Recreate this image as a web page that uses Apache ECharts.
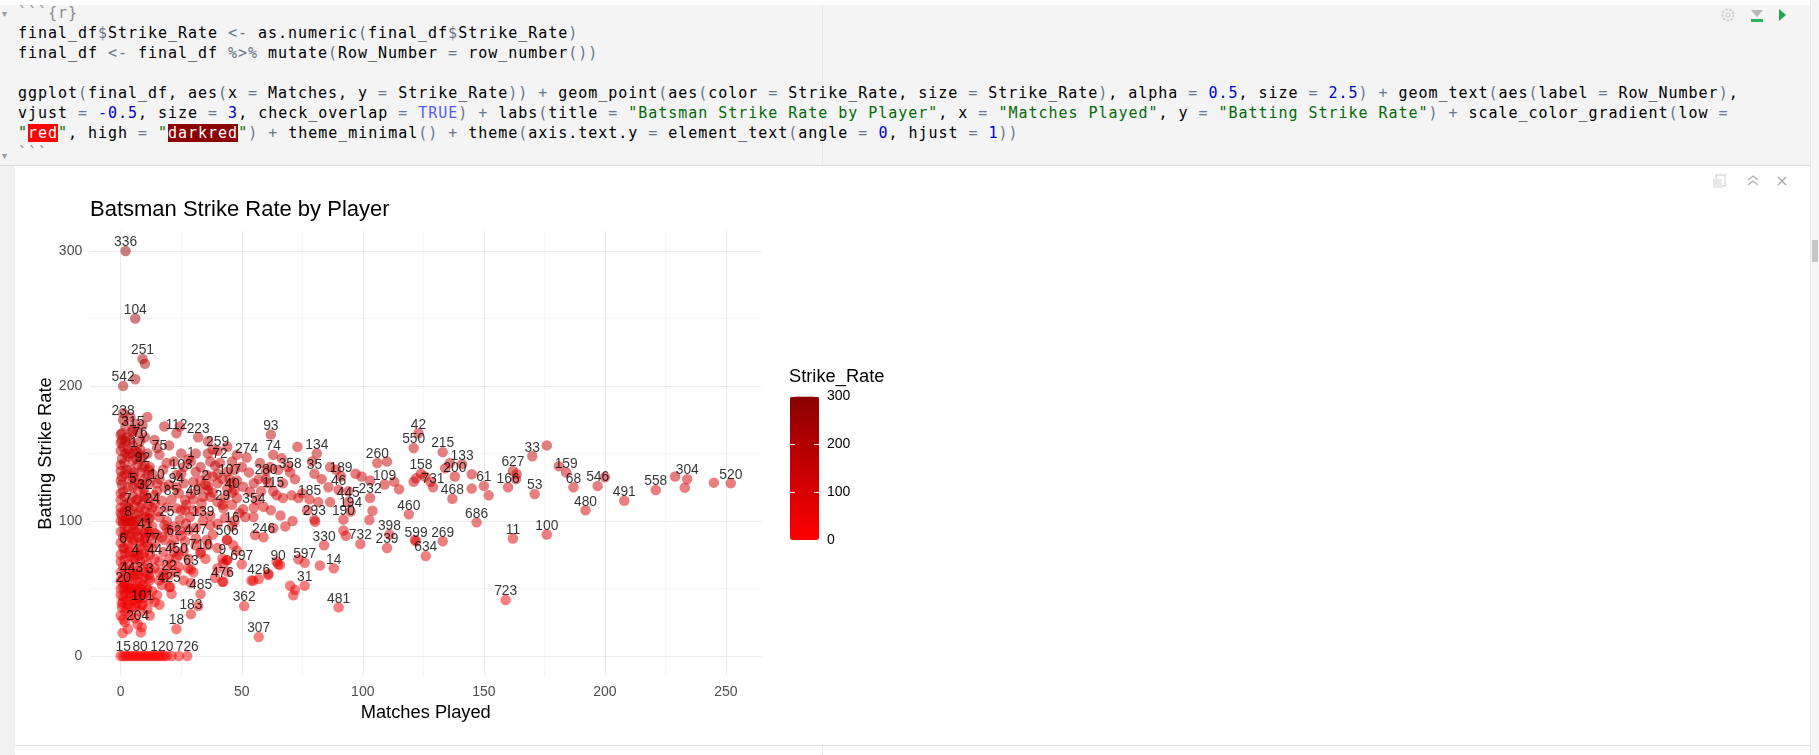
<!DOCTYPE html>
<html>
<head>
<meta charset="utf-8">
<script src="https://cdn.jsdelivr.net/npm/echarts@6/dist/echarts.min.js"></script>
<style>
html, body { margin: 0; padding: 0; width: 1819px; height: 755px; overflow: hidden; background: #fff; font-family: "Liberation Sans", Arial, sans-serif; }
.abs { position: absolute; }
#chunk { left: 0; top: 5px; width: 1810px; height: 160px; background: #F4F4F4; border-bottom: 1px solid #DCDCDC; overflow: hidden; }
#margin { left: 822px; top: 0; width: 1px; height: 755px; background: #E8E8E8; }
#code { left: 18px; top: -2px; margin: 0; font: 15px/20px "DejaVu Sans Mono", monospace; letter-spacing: 0.97px; color: #000; white-space: pre; }
.op { color: #687687; }
.num { color: #0000CD; }
.str { color: #036A07; }
.cst { color: #585CF6; }
.hdr { color: #8A8A8A; }
.red { background: #FF0000; color: #fff; }
.dred { background: #8B0000; color: #fff; }
#gutter { left: 0; top: 166px; width: 15px; height: 589px; background: #F0F0F0; }
#panel { left: 15px; top: 167px; width: 1795px; height: 578px; background: #fff; border-bottom: 1px solid #E2E2E2; }
#scroll { left: 1810px; top: 0; width: 9px; height: 755px; background: #F5F5F5; border-left: 1px solid #E6E6E6; }
#thumb { left: 1812px; top: 240px; width: 6px; height: 22px; background: #C6C6C6; }
.fold { color: #9A9A9A; font-size: 10px; left: 2px; }
#main { left: 0; top: 0; width: 1819px; height: 755px; z-index: 5; }
</style>
</head>
<body>
<div id="chunk" class="abs">
  <div id="margin" class="abs" style="top:-5px"></div>
<pre id="code" class="abs"><span class="hdr">```{r}</span>
final_df<span class="op">$</span>Strike_Rate <span class="op">&lt;-</span> as.numeric<span class="op">(</span>final_df<span class="op">$</span>Strike_Rate<span class="op">)</span>
final_df <span class="op">&lt;-</span> final_df <span class="op">%&gt;%</span> mutate<span class="op">(</span>Row_Number <span class="op">=</span> row_number<span class="op">())</span>

ggplot<span class="op">(</span>final_df, aes<span class="op">(</span>x <span class="op">=</span> Matches, y <span class="op">=</span> Strike_Rate<span class="op">))</span> <span class="op">+</span> geom_point<span class="op">(</span>aes<span class="op">(</span>color <span class="op">=</span> Strike_Rate, size <span class="op">=</span> Strike_Rate<span class="op">)</span>, alpha <span class="op">=</span> <span class="num">0.5</span>, size <span class="op">=</span> <span class="num">2.5</span><span class="op">)</span> <span class="op">+</span> geom_text<span class="op">(</span>aes<span class="op">(</span>label <span class="op">=</span> Row_Number<span class="op">)</span>,
vjust <span class="op">=</span> <span class="num">-0.5</span>, size <span class="op">=</span> <span class="num">3</span>, check_overlap <span class="op">=</span> <span class="cst">TRUE</span><span class="op">)</span> <span class="op">+</span> labs<span class="op">(</span>title <span class="op">=</span> <span class="str">"Batsman Strike Rate by Player"</span>, x <span class="op">=</span> <span class="str">"Matches Played"</span>, y <span class="op">=</span> <span class="str">"Batting Strike Rate"</span><span class="op">)</span> <span class="op">+</span> scale_color_gradient<span class="op">(</span>low <span class="op">=</span>
<span class="str">"</span><span class="red">red</span><span class="str">"</span>, high <span class="op">=</span> <span class="str">"</span><span class="dred">darkred</span><span class="str">"</span><span class="op">)</span> <span class="op">+</span> theme_minimal<span class="op">()</span> <span class="op">+</span> theme<span class="op">(</span>axis.text.y <span class="op">=</span> element_text<span class="op">(</span>angle <span class="op">=</span> <span class="num">0</span>, hjust <span class="op">=</span> <span class="num">1</span><span class="op">))</span>
<span class="hdr">```</span></pre>
</div>
<div class="abs fold" style="top:8px">&#9662;</div>
<div class="abs fold" style="top:150px">&#9662;</div>
<div id="margin2" class="abs" style="left:822px;top:745px;width:1px;height:10px;background:#E8E8E8"></div>
<div id="gutter" class="abs"></div>
<div id="panel" class="abs"></div>
<div id="scroll" class="abs"></div>
<div id="thumb" class="abs"></div>
<svg class="abs" style="left:1716px;top:4px" width="80" height="24">
  <circle cx="12" cy="11" r="5.5" fill="none" stroke="#CFCFCF" stroke-width="2.2" stroke-dasharray="2.2 1.6"/>
  <circle cx="12" cy="11" r="2" fill="none" stroke="#CFCFCF" stroke-width="1.2"/>
  <polygon points="35,6 47,6 41,13" fill="#B8B8B8"/>
  <rect x="35" y="15" width="12" height="3" fill="#2DB55D"/>
  <polygon points="63,5 70,11 63,17" fill="#1FA64A"/>
</svg>
<svg class="abs" style="left:1712px;top:172px" width="80" height="20">
  <rect x="4" y="3" width="9" height="11" fill="none" stroke="#D6D6D6" stroke-width="1.3"/>
  <rect x="1" y="7" width="9" height="9" fill="#E8E8E8"/>
  <polyline points="36,8 41,4 46,8" fill="none" stroke="#AFAFAF" stroke-width="1.2"/>
  <polyline points="36,13 41,9 46,13" fill="none" stroke="#AFAFAF" stroke-width="1.2"/>
  <line x1="66" y1="5" x2="74" y2="13" stroke="#A8A8A8" stroke-width="1.3"/>
  <line x1="74" y1="5" x2="66" y2="13" stroke="#A8A8A8" stroke-width="1.3"/>
</svg>
<div id="main" class="abs"></div>
<script>
// labelled points: [matches, strike rate, row number]
var labeledPoints = [
  [2,300,336],[6,250,104],[9,220,251],[1,200,542],[1,175,238],[5,167,315],[8,159,76],[7,151,17],[16,149,75],[9,140,92],
  [23,165,112],[32,162,223],[40,152,259],[41,143,72],[52,147,274],[29,144,1],[25,135,103],[15,128,10],[5,125,5],[23,125,94],
  [35,127,2],[45,131,107],[46,121,40],[10,120,32],[21,116,85],[30,116,49],[42,112,29],[3,110,7],[13,110,24],[55,110,354],
  [3,100,8],[19,100,25],[34,100,139],[46,96,16],[10,91,41],[59,88,246],[44,86,506],[31,87,447],[22,86,62],[1,80,6],
  [13,80,77],[33,76,710],[23,73,450],[6,72,4],[14,72,44],[42,72,9],[50,68,697],[65,68,90],[76,69,597],[29,64,63],
  [4.5,59,443],[12,58,3],[20,60,22],[42,55,476],[57,57,426],[1,51,20],[20,51,425],[76,52,31],[33,46,485],[9,38,101],
  [51,37,362],[90,36,481],[29,31,183],[7,23.5,204],[23,20,18],[57,14,307],[1,0,15],[8,0,80],[17,0,120],[27.5,0,726],
  [62,164,93],[63,149,74],[81,150,134],[70,136,358],[80,135,35],[91,133,189],[60,131,280],[63,122,115],[78,116,185],[90,123,46],
  [94,114,445],[103,117,232],[109,127,109],[106,143,260],[121,154,550],[123,165,42],[80,101,293],[95,107,194],[92,101,190],[84,82,330],
  [99,83,732],[88,65,14],[119,105,460],[111,90,398],[110,80,239],[122,85,599],[133,85,269],[126,74,634],[133,151,215],[141,142,133],
  [124,135,158],[138,133,200],[129,125,731],[162,137,627],[160,125,166],[150,126,61],[137,116.5,468],[171,120,53],[170,148,33],[184,136,159],
  [187,125,68],[197,126,546],[192,108,480],[208,115,491],[221,123,558],[234,131,304],[252,128,520],[147,99,686],[162,87,11],[176,90,100],
  [159,41.5,723]
];

// points whose labels were dropped by check_overlap: [matches, strike rate]
var otherPoints = [
  [10,216.5],[6,205],
  [0,164],[11,177],[9,171],[0.5,165],[4.5,166],[2,159],[10,162],[18,170],[24.5,170],[14,160],[5,156],[3,153],[8,153],
  [15,154],[20,156],[36,159],[38,153],[0.5,146],[6.5,146],[25,150],[28,146],[31,150],[37,144],[0,141.5],[2.5,138],[12,140],
  [19,143],[22,144],[33,140],[46,144],[17.5,138],[26,140],[31,136.5],[35.5,134],[44,136.5],[0.5,133],[5,133],[11,134],[23,134],
  [33,130],[38,133],[0.5,127],[9,127],[20,127],[26,128],[30,129],[40,128],[46,128],[0,120.5],[7,123],[15,122],[24,120.5],
  [36,123],[37,118],[47,123],[0,115.6],[6.5,115.6],[14,113],[26.6,115.6],[33.4,113],[40,114],[0,110],[10,107],[15.5,107],
  [23,109.4],[26.6,108],[33,107],[42.4,109.4],[0.4,104],[12,102],[24.5,100.7],[28.6,103],[43,102],
  [1,155],[3,148],[5,145],[7,142],[9,147],[11,150],[2,135],[4,138],[6,130],[8,136],[10,131],[12,128],[1,122],[3,125],[5,118],
  [7,116],[9,113],[11,117],[2,112],[4,108],[6,105],[8,110],[10,103],[12,106],[1,98],[3,95],[5,97],[7,93],[9,99],[11,96],
  [2,90],[4,88],[6,92],[8,85],[10,87],[12,89],[0,84],[1,88],[3,82],[5,84],[7,78],[9,80],[11,82],[2,76],[4,74],[6,77],[8,70],
  [10,73],[12,75],[0,70],[1,66],[3,68],[5,65],[7,63],[9,66],[11,68],[2,61],[4,56],[6,60],[8,55],[10,62],[12,64],[0,62],
  [1,57],[3,52],[5,50],[7,48],[9,53],[11,49],[2,46],[4,44],[6,42],[8,45],[10,47],[0,45],[1,40],[3,38],[5,41],[0,30],[2,33],
  [4,30],[8,33],[1,27],[6,28],[3,20],[0.8,17],[8.3,17.5],[8.7,21.3],[1.8,25],[0.4,39],[2.5,35],[5.9,36.5],[8.7,37.8],[1.1,44],
  [0,50],[0,56],[0,75],[0,92],[0,100],[0,106],[0,130],[0,137],[0,152],[0,158],[2,170],[1,180],[4,177],[6,172],[7,166],[2,150],
  [4,160],[1,100],[2,100],[4,100],[5,100],[6,100],[2,50],[3,50],[4,50],[6,50],[8,50],[7,52],[9,47],
  [0,0],[2,0],[3,0],[4,0],[5,0],[6,0],[7,0],[9,0],[10,0],[11,0],[12,0],[13,0],[14,0],[15,0],[16,0],[18,0],[19,0],[21,0],[24,0],
  [24.5,93],[31,95],[37,97],[18,86],[21,82],[26.6,85],[35.5,86],[17.6,77],[24,75],[28,72],[33,77],[35,72],[46.5,82],[16,70],
  [21,68],[27.9,65],[30,62],[40,65],[42.4,68.7],[44,62.5],[17.6,60],[17,52.6],[20.4,51.3],[12,56],[10.7,51],[42.4,55],[14,65],
  [15,90],[19,94],[14,84],[13,96],[16,62],[15,45],[12,42],[13,48],[32,37],[18,58],[26,56],[24,66],[38,90],[40,80],[48,78],
  [36,82],[39,58],[44,71],
  [50,140],[57.5,143],[61.7,140],[65,138],[66.5,146.4],[73,155],[79,144],[86.5,140],[89,138],[97,135],[99.5,133],[103,130],
  [110,144],[121,129],[115,123.5],[61,128],[64.4,119],[67,117],[70.6,119],[73.4,117],[75,120.5],[81.6,114],[85.8,125],
  [86.5,114],[94,122],[104,107.6],[102.7,100.7],[92,93],[93,89],[121.5,86],[80.3,99.5],[82.3,67],[73.4,71.6],[70,52],[71.3,45],
  [65.8,67.4],[61,60],[54.8,55.8],[48,117],[50.6,125.4],[53.4,121.7],[56.2,115.6],[59,110.6],[50.6,108.7],[51.4,103],[54.8,103],
  [55.5,89.6],[63,94.6],[43.8,86],[43.8,71],[54,56],[61,61],[64.4,70],[72,49],[113,129],[128,129],[122,131.6],[125.7,133],
  [134,139],[136,143],[145,134.6],[145,124],[152,119],[163.6,134.8],[163.3,131],[176,156],[181,140.5],[200,132.4],[229,133],
  [233,124.7],[245,128.4],
  [36,126],[38,121],[40,135],[42,131],[44,124],[47,138],[48,130],[39,141],[43,117],[46,112],[37,104],[40,98],[47,100],[49,106],
  [36,150],[44,155],[48,149],[53,136],[55,128],[57,131],[58,122],[60,137],[67,128],[69,140],[72,131],[83,131],[62,108],[66,104],
  [68,96],[71,100],[77,108],
  [0.5,160],[2.5,162],[4,150],[6,152],[8,148],[10,141],[1.5,143],[3.5,131],[5.5,136],[7.5,128],[9.5,124],[11.5,138],[1.5,118],
  [3.5,114],[5.5,111],[7.5,106],[9.5,118],[11.5,112],[1.5,107],[3.5,103],[5.5,94],[7.5,101],[9.5,92],[11.5,102],[1.5,93],
  [3.5,90],[5.5,86],[7.5,88],[9.5,84],[11.5,91],[1.5,80],[3.5,77],[5.5,72],[7.5,74],[9.5,76],[1.5,71],[3.5,63],[5.5,58],
  [7.5,60],[9.5,58],[11.5,60],[1.5,53],[3.5,47],[5.5,46],[7.5,43],[9.5,43],[0.5,36],[2.5,41],[4.5,36],[6.5,39],[13,135],
  [16,131],[18,125],[14,119],[17,115],[19,110],[16,103],[18,97],[14,91],[17,88],[20,92],[22,96],[25,108],[27,112],[29,120],
  [32,124],[34,118],[30,108],[27,98],[25,89],[28,93],[31,82],[26,78],[22,77],[20,72],[19,66],[16,56],[23,62],[29,54],[21,46],
  [14,40],[16,38],[11,35],[12,30]
];

var xTicks = [0, 50, 100, 150, 200, 250];
var yTicks = [0, 100, 200, 300];
var legendTicks = [0, 100, 200, 300];
var xRange = [-12.6, 264.6];
var yRange = [-15, 315];

var txtFont = 'Liberation Sans';
var myChart = echarts.init(document.getElementById('main'), null, { renderer: 'canvas' });

var allPoints = labeledPoints.map(function (p) { return [p[0], p[1]]; }).concat(otherPoints);
var xStep = xTicks[1] - xTicks[0];
var yStep = yTicks[1] - yTicks[0];

var option = {
  backgroundColor: 'transparent',
  animation: false,
  textStyle: { fontFamily: txtFont },
  title: [{
    text: 'Batsman Strike Rate by Player',
    left: 90, top: 199, padding: 0,
    textStyle: { fontSize: 22, fontWeight: 'normal', color: '#000', fontFamily: txtFont }
  }, {
    text: 'Strike_Rate',
    left: 789, top: 368, padding: 0,
    textStyle: { fontSize: 18.3, fontWeight: 'normal', color: '#000', fontFamily: txtFont }
  }],
  grid: [{
    left: 90.2, top: 230.75, width: 671.1, height: 445.5,
    containLabel: false, outerBoundsMode: 'none'
  }, {
    left: 790, top: 396.6, width: 29, height: 143.4,
    containLabel: false, outerBoundsMode: 'none'
  }],
  xAxis: [{
    type: 'value', gridIndex: 0,
    min: xRange[0], max: xRange[1],
    splitNumber: 5, minInterval: xStep, maxInterval: xStep,
    name: 'Matches Played', nameLocation: 'middle', nameGap: 26,
    nameTextStyle: { fontSize: 18.3, color: '#000', fontFamily: txtFont },
    axisLine: { show: false }, axisTick: { show: false },
    axisLabel: { color: '#4D4D4D', fontSize: 14, margin: 9, showMinLabel: false, showMaxLabel: false, fontFamily: txtFont },
    splitLine: { show: true, showMinLine: false, showMaxLine: false, lineStyle: { color: '#EBEBEB', width: 1.1 } },
    minorTick: { show: false, splitNumber: 2 },
    minorSplitLine: { show: true, lineStyle: { color: '#EFEFEF', width: 0.6 } }
  }, {
    type: 'value', gridIndex: 1, show: false, min: 0, max: 1
  }],
  yAxis: [{
    type: 'value', gridIndex: 0,
    min: yRange[0], max: yRange[1],
    splitNumber: 3, minInterval: yStep, maxInterval: yStep,
    name: 'Batting Strike Rate', nameLocation: 'middle', nameGap: 33,
    nameTextStyle: { fontSize: 18.3, color: '#000', fontFamily: txtFont },
    axisLine: { show: false }, axisTick: { show: false },
    axisLabel: { color: '#4D4D4D', fontSize: 14, margin: 8, showMinLabel: false, showMaxLabel: false, fontFamily: txtFont },
    splitLine: { show: true, showMinLine: false, showMaxLine: false, lineStyle: { color: '#EBEBEB', width: 1.1 } },
    minorTick: { show: false, splitNumber: 2 },
    minorSplitLine: { show: true, lineStyle: { color: '#EFEFEF', width: 0.6 } }
  }, {
    type: 'value', gridIndex: 1, position: 'left', z: 10,
    min: legendTicks[0], max: legendTicks[legendTicks.length - 1],
    interval: legendTicks[1] - legendTicks[0],
    axisLine: { show: false }, axisLabel: { show: false }, splitLine: { show: false },
    axisTick: { show: true, inside: true, length: 5, lineStyle: { color: '#fff', width: 1 } }
  }, {
    type: 'value', gridIndex: 1, position: 'right', z: 10,
    min: legendTicks[0], max: legendTicks[legendTicks.length - 1],
    interval: legendTicks[1] - legendTicks[0],
    axisLine: { show: false }, splitLine: { show: false },
    axisTick: { show: true, inside: true, length: 5, lineStyle: { color: '#fff', width: 1 } },
    axisLabel: { color: '#000', fontSize: 14, margin: 8, fontFamily: txtFont }
  }],
  visualMap: {
    type: 'continuous',
    seriesIndex: 0, dimension: 1,
    min: legendTicks[0], max: legendTicks[legendTicks.length - 1],
    left: 790, top: 396.6, padding: 0,
    itemWidth: 29, itemHeight: 143.4,
    calculable: false, hoverLink: false,
    inRange: { color: ['#FF0000', '#8B0000'] },
    textStyle: { color: 'transparent' }
  },
  series: [{
    type: 'scatter',
    xAxisIndex: 0, yAxisIndex: 0,
    data: allPoints,
    symbolSize: 10.5,
    progressive: 0,
    itemStyle: { opacity: 0.5 },
    silent: true
  }, {
    type: 'scatter',
    xAxisIndex: 0, yAxisIndex: 0,
    data: labeledPoints,
    symbolSize: 1,
    z: 4,
    silent: true,
    itemStyle: { color: 'rgba(0,0,0,0)' },
    label: {
      show: true, position: 'top', distance: 1,
      color: '#000', fontSize: 13.8, fontFamily: txtFont,
      formatter: function (p) { return String(p.value[2]); }
    }
  }]
};
myChart.setOption(option);
</script>
</body>
</html>
